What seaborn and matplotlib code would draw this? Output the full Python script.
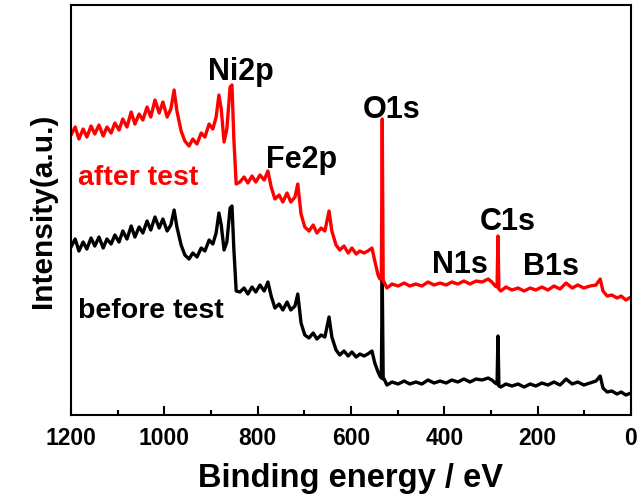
import numpy as np
import matplotlib
matplotlib.use('Agg')
import matplotlib.pyplot as plt
from matplotlib.ticker import MultipleLocator
import seaborn as sns
import pandas as pd

# Binding energy grid (eV) shared by both survey spectra
binding_energy = [
    1200, 1191, 1183, 1174, 1166, 1157, 1149, 1140, 1131, 1123, 1114, 1106, 1097, 1089,
    1080, 1071, 1063, 1054, 1046, 1037, 1029, 1020, 1011, 1003, 994, 986, 979, 973,
    964, 956, 947, 939, 930, 921, 913, 904, 896, 889, 883, 878, 872, 866, 859, 855,
    851, 846, 838, 829, 821, 812, 804, 795, 786, 778, 771, 763, 754, 746, 737, 729,
    720, 714, 707, 699, 690, 681, 673, 664, 656, 647, 641, 632, 624, 615, 606, 598,
    589, 581, 572, 564, 555, 549, 542, 538, 535, 533, 531, 529, 523, 512, 499, 486,
    474, 461, 448, 435, 422, 409, 396, 384, 371, 358, 345, 332, 319, 306, 298, 291,
    287, 285, 283, 279, 268, 255, 242, 229, 216, 204, 191, 178, 165, 152, 139, 126,
    114, 101, 88, 75, 66, 60, 51, 41, 30, 21, 11, 0,
]

# Intensity (a.u.)
after_test = [
    280, 288, 276, 286, 278, 289, 281, 290, 279, 288, 282, 292, 285, 296,
    288, 303, 291, 301, 295, 308, 298, 315, 302, 313, 298, 306, 325, 304,
    284, 274, 269, 276, 271, 282, 278, 291, 286, 298, 320, 306, 273, 286, 328, 330,
    276, 231, 233, 238, 232, 239, 233, 240, 235, 244, 228, 216, 220, 213, 222, 213,
    218, 231, 201, 188, 184, 190, 182, 187, 184, 204, 184, 170, 165, 169, 162, 167,
    161, 164, 162, 164, 167, 154, 140, 136, 138, 296, 134, 133, 127, 131, 129, 132,
    129, 131, 129, 133, 130, 132, 130, 133, 131, 134, 131, 134, 133, 136, 133, 129,
    128, 179, 126, 124, 128, 125, 127, 124, 127, 125, 128, 125, 129, 126, 132, 127,
    130, 127, 129, 130, 136, 124, 119, 120, 117, 119, 115, 118,
]

before_test = [
    168, 176, 164, 173, 166, 177, 169, 178, 167, 176, 171, 180, 173, 184,
    176, 189, 178, 188, 182, 194, 185, 198, 187, 196, 184, 190, 205, 188,
    170, 160, 156, 162, 158, 167, 164, 175, 171, 182, 202, 190, 165, 173, 207, 209,
    166, 124, 123, 127, 121, 128, 123, 130, 124, 133, 119, 107, 111, 105, 113, 105,
    109, 121, 92, 80, 77, 82, 76, 80, 78, 98, 78, 65, 60, 64, 59, 63,
    58, 61, 59, 61, 64, 52, 43, 39, 37, 138, 36, 36, 30, 33, 31, 34,
    31, 33, 31, 35, 32, 34, 32, 35, 33, 36, 33, 36, 35, 37, 35, 32,
    31, 79, 29, 28, 31, 29, 31, 28, 31, 29, 32, 30, 33, 30, 36, 31,
    33, 30, 32, 34, 39, 27, 23, 24, 21, 23, 20, 22,
]

# Peak labels: (text, energy, intensity at baseline)
peak_names = ['Ni2p', 'Fe2p', 'O1s', 'C1s', 'N1s', 'B1s']
peak_x = [836, 705, 512, 264, 366, 171]
peak_y = [336, 248, 298, 186, 143, 141]

df = pd.DataFrame({
    'energy': binding_energy * 2,
    'intensity': before_test + after_test,
    'sample': ['before test'] * len(binding_energy) + ['after test'] * len(binding_energy),
})

sns.set_style('ticks')
plt.rcParams['font.family'] = ['Liberation Sans', 'DejaVu Sans']
plt.rcParams['font.weight'] = 'bold'
plt.rcParams['text.color'] = 'black'
plt.rcParams['axes.labelcolor'] = 'black'
plt.rcParams['axes.edgecolor'] = 'black'
plt.rcParams['xtick.color'] = 'black'

fig = plt.figure(figsize=(6.43, 5.02), dpi=100)
ax = fig.add_axes([0.1104, 0.1713, 0.8709, 0.8167])

sns.lineplot(data=df, x='energy', y='intensity', hue='sample',
             hue_order=['before test', 'after test'],
             palette={'before test': 'black', 'after test': '#ff0000'},
             estimator=None, sort=False, linewidth=2.4, legend=False, ax=ax)

ax.set_xlim(1200, 0)
ax.set_ylim(0, 410)
ax.xaxis.set_major_locator(MultipleLocator(200))
ax.xaxis.set_minor_locator(MultipleLocator(100))
ax.tick_params(axis='x', which='major', direction='in', length=6.5, width=1.5,
               labelsize=16.5, pad=8)
ax.tick_params(axis='x', which='minor', direction='in', length=3.5, width=1.5)
ax.set_yticks([])
for lbl in ax.get_xticklabels():
    lbl.set_fontweight('bold')
for sp in ax.spines.values():
    sp.set_linewidth(1.5)

ax.set_xlabel('Binding energy / eV', fontsize=23.5, fontweight='bold', labelpad=9)
ax.set_ylabel('Intensity(a.u.)', fontsize=21.5, fontweight='bold', labelpad=10)

for name, x, y in zip(peak_names, peak_x, peak_y):
    ax.text(x, y, name, ha='center', va='baseline', fontsize=22, fontweight='bold')

ax.text(1185, 231, 'after test', ha='left', va='baseline', fontsize=20.5,
        fontweight='bold', color='#ff0000')
ax.text(1185, 98, 'before test', ha='left', va='baseline', fontsize=20.5,
        fontweight='bold', color='black')

fig.savefig('out.png', dpi=100)
